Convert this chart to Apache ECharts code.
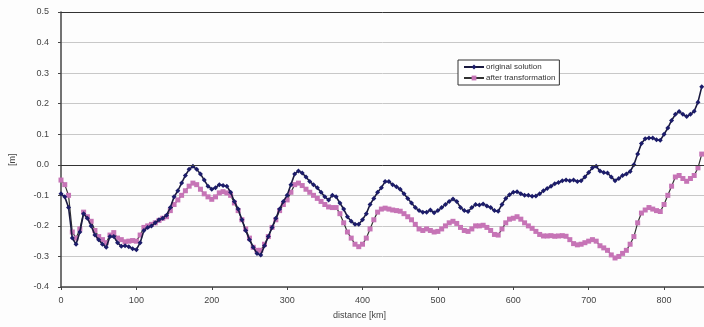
<!DOCTYPE html>
<html>
<head>
<meta charset="utf-8">
<script src="https://cdn.jsdelivr.net/npm/echarts@6/dist/echarts.min.js"></script>
<style>
  html, body { margin: 0; padding: 0; background: #fdfdfd; }
  #chart { width: 704px; height: 327px; }
</style>
</head>
<body>
<div id="chart"></div>
<script>
// distance in km, one reading every 5 km
const distance = [];
for (let km = 0; km <= 850; km += 5) distance.push(km);

const originalSolution = [
  -0.095, -0.105, -0.14, -0.24, -0.26, -0.22, -0.16, -0.175, -0.2, -0.23,
  -0.245, -0.26, -0.27, -0.235, -0.235, -0.255, -0.267, -0.265, -0.268, -0.275,
  -0.278, -0.255, -0.215, -0.205, -0.2, -0.19, -0.18, -0.175, -0.165, -0.14,
  -0.105, -0.085, -0.06, -0.035, -0.015, -0.005, -0.015, -0.03, -0.05, -0.07,
  -0.08, -0.075, -0.065, -0.068, -0.07, -0.09, -0.12, -0.145, -0.18, -0.215,
  -0.245, -0.27, -0.29, -0.295, -0.265, -0.235, -0.205, -0.175, -0.145, -0.12,
  -0.1, -0.065, -0.03, -0.02, -0.027, -0.04, -0.055, -0.065, -0.075, -0.09,
  -0.105, -0.115, -0.1, -0.105, -0.125, -0.145, -0.17, -0.185, -0.195, -0.195,
  -0.18, -0.16, -0.13, -0.11, -0.09, -0.075, -0.055, -0.055, -0.065, -0.072,
  -0.08, -0.095, -0.11, -0.125, -0.14, -0.15, -0.155, -0.155, -0.148, -0.157,
  -0.15, -0.14, -0.13, -0.12, -0.112, -0.12, -0.14, -0.15, -0.153, -0.14,
  -0.13, -0.132, -0.128, -0.135, -0.14, -0.15, -0.152, -0.13, -0.11, -0.098,
  -0.09, -0.088, -0.095, -0.1, -0.1, -0.103, -0.102, -0.095, -0.085, -0.078,
  -0.07, -0.062, -0.058, -0.052, -0.05, -0.052, -0.05, -0.055, -0.052, -0.04,
  -0.025, -0.01, -0.005, -0.02, -0.025, -0.027, -0.04, -0.052, -0.045, -0.035,
  -0.03, -0.022, 0.0, 0.035, 0.07, 0.085, 0.088, 0.088, 0.082, 0.08,
  0.1, 0.12, 0.145, 0.165, 0.174, 0.165, 0.158, 0.165, 0.175, 0.205,
  0.255
];

const afterTransformation = [
  -0.05, -0.065, -0.1, -0.22, -0.24, -0.21, -0.155, -0.17, -0.185, -0.215,
  -0.235, -0.245, -0.255, -0.23, -0.222, -0.24, -0.245, -0.252, -0.25, -0.248,
  -0.25, -0.23, -0.205, -0.2, -0.195, -0.19, -0.182, -0.175, -0.17, -0.15,
  -0.13, -0.115, -0.1, -0.085, -0.07, -0.06, -0.065, -0.08, -0.095, -0.105,
  -0.113, -0.105, -0.092, -0.088, -0.092, -0.1, -0.125, -0.15, -0.18, -0.21,
  -0.24, -0.27, -0.28, -0.28, -0.26, -0.235, -0.205, -0.18, -0.15, -0.13,
  -0.115, -0.09, -0.065, -0.06, -0.068, -0.08, -0.09, -0.1, -0.11, -0.12,
  -0.13, -0.138, -0.14, -0.14, -0.16, -0.19, -0.22, -0.24, -0.26, -0.268,
  -0.26, -0.24, -0.21, -0.18, -0.155, -0.145, -0.142, -0.145, -0.148, -0.15,
  -0.152, -0.16, -0.17, -0.18, -0.195, -0.21, -0.215, -0.21, -0.215, -0.22,
  -0.218, -0.21, -0.2, -0.19, -0.185, -0.192, -0.205, -0.215, -0.218, -0.21,
  -0.2, -0.2, -0.198, -0.205, -0.215, -0.228, -0.23, -0.21, -0.19, -0.178,
  -0.175, -0.17, -0.178, -0.19, -0.2, -0.208, -0.218, -0.228, -0.233, -0.233,
  -0.232, -0.234, -0.233, -0.232, -0.234, -0.245, -0.258, -0.262, -0.26, -0.255,
  -0.25, -0.245, -0.25, -0.265, -0.272, -0.28, -0.295, -0.305, -0.3, -0.29,
  -0.28, -0.26, -0.235, -0.19, -0.158, -0.148, -0.14, -0.145, -0.15, -0.153,
  -0.13, -0.1, -0.07, -0.04, -0.035, -0.045, -0.054, -0.045, -0.035, -0.01,
  0.035
];

const xTicks = [0, 100, 200, 300, 400, 500, 600, 700, 800];
const yTicks = [-0.4, -0.3, -0.2, -0.1, 0.0, 0.1, 0.2, 0.3, 0.4, 0.5];

const toPairs = (values) => distance.map((km, i) => [km, values[i]]);

const chart = echarts.init(document.getElementById('chart'));
const labelFont = { fontFamily: 'Liberation Sans, Arial, sans-serif', fontSize: 9, color: '#444' };

const option = {
  backgroundColor: '#fdfdfd',
  animation: false,
  grid: { left: 61, right: 0, top: 12, bottom: 40 },
  legend: {
    left: 458,
    top: 60,
    orient: 'vertical',
    itemWidth: 20,
    itemHeight: 6,
    itemGap: 3,
    padding: [3, 4, 3, 5],
    borderColor: '#333',
    borderWidth: 1,
    backgroundColor: '#fff',
    textStyle: { fontFamily: 'Liberation Sans, Arial, sans-serif', fontSize: 8, color: '#333', padding: [0, 0, 0, -3] },
    data: ['original solution', 'after transformation'],
  },
  xAxis: {
    type: 'value',
    min: xTicks[0],
    max: 853,
    interval: 100,
    axisLine: { onZero: false, lineStyle: { color: '#444', width: 1.5 } },
    axisTick: { length: 3, lineStyle: { color: '#444' } },
    axisLabel: { ...labelFont, margin: 9, customValues: xTicks },
    splitLine: { show: false },
  },
  yAxis: {
    type: 'value',
    min: yTicks[0],
    max: yTicks[yTicks.length - 1],
    interval: 0.1,
    axisLine: { show: true, lineStyle: { color: '#444', width: 1.5 } },
    axisTick: { show: true, length: 3, lineStyle: { color: '#444' } },
    axisLabel: { ...labelFont, margin: 12, formatter: (v) => v.toFixed(1) },
    splitLine: { lineStyle: { color: '#c8c8c8', width: 1 } },
  },
  graphic: [
    {
      type: 'text',
      left: 333,
      top: 311,
      style: { text: 'distance [km]', ...labelFont, fill: '#444', fontSize: 9 },
    },
    {
      type: 'text',
      x: 8,
      y: 166,
      rotation: Math.PI / 2,
      style: { text: '[m]', ...labelFont, fill: '#444', fontSize: 9 },
    },
  ],
  series: [
    {
      name: 'original solution',
      type: 'line',
      data: toPairs(originalSolution),
      symbol: 'diamond',
      symbolSize: 5,
      showAllSymbol: true,
      itemStyle: { color: '#1c1c6a' },
      lineStyle: { color: '#1a1a40', width: 1.6 },
      z: 3,
      markLine: {
        silent: true,
        symbol: 'none',
        label: { show: false },
        lineStyle: { color: '#333', width: 1, type: 'solid' },
        data: [{ yAxis: 0 }, { yAxis: 0.5 }],
      },
    },
    {
      name: 'after transformation',
      type: 'line',
      data: toPairs(afterTransformation),
      symbol: 'rect',
      symbolSize: 5,
      showAllSymbol: true,
      itemStyle: { color: '#c674b6' },
      lineStyle: { color: '#333', width: 1.2 },
      z: 2,
    },
  ],
};

chart.setOption(option);
</script>
</body>
</html>
